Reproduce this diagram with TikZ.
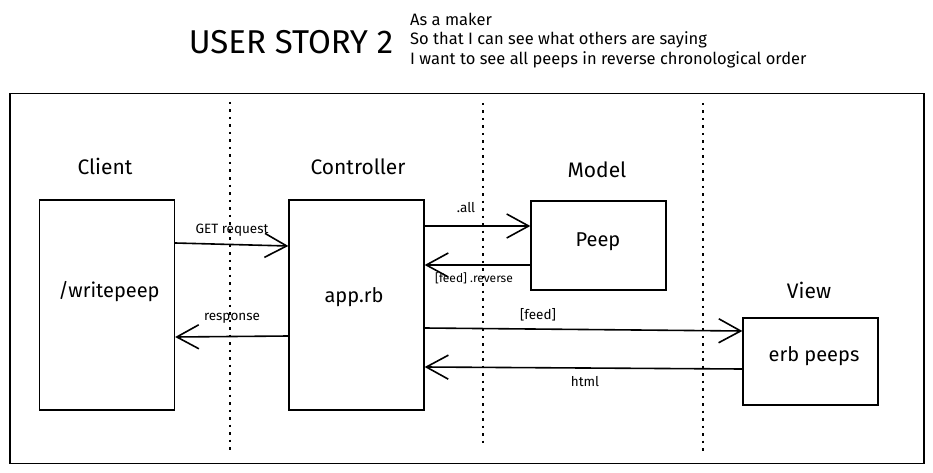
\documentclass[tikz,border=0pt]{standalone}
\usepackage{fontspec}
\setmainfont{Fira Sans}
\usetikzlibrary{arrows.meta}
\begin{document}
\begin{tikzpicture}[x=1pt,y=-1pt,
  box/.style={draw, line width=1.3pt, minimum width=135pt, inner sep=0pt},
  lane/.style={dash pattern=on 2.5pt off 5pt, line width=1.1pt},
  arr/.style={line width=1.6pt, -{Straight Barb[length=22pt,width=24pt,line width=1.6pt]}},
  head/.style={font=\fontsize{21}{23}\selectfont},
  inbox/.style={font=\fontsize{20}{22}\selectfont},
  small/.style={font=\fontsize{13.5}{15}\selectfont},
  story/.style={font=\fontsize{16.5}{18}\selectfont, anchor=west, inner sep=0pt}]
\useasboundingbox (0,0) rectangle (933,473);
% title
\node[font=\fontsize{33}{35}\selectfont\mdseries] (title) at (291,42) {USER STORY 2};
\node[story] (s1) at (410,19) {As a maker};
\node[story] (s2) at (410,40) {So that I can see what others are saying};
\node[story] (s3) at (410,60) {I want to see all peeps in reverse chronological order};
% frame
\node[draw, line width=1.4pt, minimum width=914pt, minimum height=370pt, inner sep=0pt] (frame) at (467,278.5) {};
% lanes
\coordinate (l1a) at (230,102); \coordinate (l1b) at (230,453);
\coordinate (l2a) at (483,103); \coordinate (l2b) at (483,445);
\coordinate (l3a) at (703,103); \coordinate (l3b) at (703,455);
\draw[lane] (l1a) -- (l1b);
\draw[lane] (l2a) -- (l2b);
\draw[lane] (l3a) -- (l3b);
% headings
\node[head] (hclient) at (105,166) {Client};
\node[head] (hctrl) at (358,167) {Controller};
\node[head] (hmodel) at (597,170) {Model};
\node[head] (hview) at (809,290) {View};
% boxes
\node[box, minimum height=210pt] (client) at (107,305) {};
\node[box, minimum height=210pt] (app) at (356.5,305) {};
\node[box, minimum height=89pt] (peep) at (598.5,245.5) {};
\node[box, minimum height=87pt] (erb) at (810.5,361.5) {};
\node[inbox] (tclient) at (109,292) {/writepeep};
\node[inbox] (tapp) at (354,297) {app.rb};
\node[inbox] (tpeep) at (598,242) {Peep};
\node[inbox] (terb) at (814,356) {erb peeps};
% arrows
\draw[arr] ([yshift=62pt]client.east) -- ([yshift=59pt]app.west);
\node[small] (lget) at (232,230) {GET request};
\draw[arr] ([yshift=79pt]app.east) -- ([yshift=19.5pt]peep.west);
\node[small] (lall) at (466,208) {.all};
\draw[arr] ([yshift=-19.5pt]peep.west) -- ([yshift=40pt]app.east);
\node[font=\fontsize{12}{14}\selectfont] (lrev) at (474,278) {[feed] .reverse};
\draw[arr] ([yshift=-31pt]app.west) -- ([yshift=-32pt]client.east);
\node[small] (lresp) at (232,318) {response};
\draw[arr] ([yshift=-23pt]app.east) -- ([yshift=30.5pt]erb.west);
\node[small] (lfeed) at (538,315) {[feed]};
\draw[arr] ([yshift=-7.5pt]erb.west) -- ([yshift=-62pt]app.east);
\node[small] (lhtml) at (585,382) {html};
\end{tikzpicture}
\end{document}
